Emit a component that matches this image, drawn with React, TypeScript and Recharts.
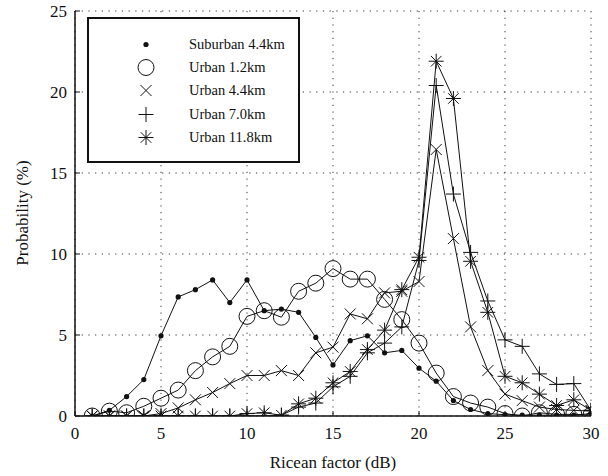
import React from 'react';
import { LineChart, Line, XAxis, YAxis, CartesianGrid, Label } from 'recharts';

const db = [1, 2, 3, 4, 5, 6, 7, 8, 9, 10, 11, 12, 13, 14, 15, 16, 17, 18, 19, 20, 21, 22, 23, 24, 25, 26, 27, 28, 29, 30];

const suburban44 = [0, 0.35, 1.2, 2.25, 4.95, 7.35, 7.8, 8.4, 7.0, 8.4, 6.5, 6.6, 6.4, 4.85, 3.15, 4.65, 4.95, 3.9, 4.05, 2.95, 2.15, 0.95, 0.4, 0.15, 0.08, 0.05, 0.05, 0.05, 0.05, 0.15];
const urban12 = [0, 0.3, 0.2, 0.6, 1.1, 1.6, 2.8, 3.65, 4.3, 6.15, 6.5, 6.1, 7.7, 8.2, 9.1, 8.45, 8.45, 7.2, 5.95, 4.5, 2.65, 1.2, 0.8, 0.55, 0.15, 0, 0.2, 0.1, 0.1, 0.05];
const urban44 = [0, 0, 0, 0, 0.15, 0.5, 1.0, 1.45, 2.0, 2.5, 2.5, 2.8, 2.5, 3.9, 4.25, 6.3, 6.0, 7.6, 7.7, 8.3, 16.45, 10.95, 5.5, 2.8, 1.35, 0.95, 0.55, 0.4, 0.35, 0.3];
const urban70 = [0, 0, 0, 0, 0, 0, 0, 0, 0, 0, 0, 0.05, 0.55, 0.8, 1.8, 2.45, 3.9, 4.5, 5.5, 9.6, 20.4, 13.7, 10.1, 7.1, 4.7, 4.3, 2.6, 1.95, 2.0, 0.35];
const urban118 = [0, 0, 0, 0, 0, 0, 0, 0, 0, 0.15, 0.2, 0.05, 0.75, 1.1, 2.05, 2.75, 4.1, 5.3, 7.8, 9.8, 21.9, 19.6, 9.55, 6.4, 2.45, 2.05, 1.35, 0.65, 1.0, 0.35];

const xTicks = [0, 5, 10, 15, 20, 25, 30];
const yTicks = [0, 5, 10, 15, 20, 25];

const seriesNames = ['Suburban 4.4km', 'Urban 1.2km', 'Urban 4.4km', 'Urban 7.0km', 'Urban 11.8km'];

const data = db.map((x, i) => ({
  x,
  s44: suburban44[i],
  u12: urban12[i],
  u44: urban44[i],
  u70: urban70[i],
  u118: urban118[i],
}));

const FONT = 'Liberation Serif, DejaVu Serif, Times, serif';
const INK = '#111';

type Shape = 'dot' | 'circle' | 'cross' | 'plus' | 'star';

const Marker = ({ shape, cx, cy }: { shape: Shape; cx: number; cy: number }) => {
  const s = { stroke: INK, strokeWidth: 1, fill: 'none' };
  if (shape === 'dot') return <circle cx={cx} cy={cy} r={2.6} fill={INK} />;
  if (shape === 'circle') return <circle cx={cx} cy={cy} r={8} {...s} fill="none" />;
  if (shape === 'cross') {
    const d = 5.5;
    return <path d={`M${cx - d},${cy - d}L${cx + d},${cy + d}M${cx - d},${cy + d}L${cx + d},${cy - d}`} {...s} />;
  }
  if (shape === 'plus') {
    const d = 7.5;
    return <path d={`M${cx - d},${cy}L${cx + d},${cy}M${cx},${cy - d}L${cx},${cy + d}`} {...s} />;
  }
  const d = 7.5;
  const e = 5.3;
  return (
    <path
      d={`M${cx - d},${cy}L${cx + d},${cy}M${cx},${cy - d}L${cx},${cy + d}M${cx - e},${cy - e}L${cx + e},${cy + e}M${cx - e},${cy + e}L${cx + e},${cy - e}`}
      {...s}
    />
  );
};

const dotFor = (shape: Shape) => (props: any) => {
  const { cx, cy, index } = props;
  if (cx == null || cy == null) return <g key={index} />;
  return <g key={index}><Marker shape={shape} cx={cx} cy={cy} /></g>;
};

const BottomTick = (props: any) => {
  const { x, y, payload } = props;
  return (
    <g>
      <line x1={x} y1={y} x2={x} y2={y - 5} stroke={INK} />
      <text x={x} y={y + 23} textAnchor="middle" fontSize={17} fontFamily={FONT} fill={INK}>{payload.value}</text>
    </g>
  );
};

const LeftTick = (props: any) => {
  const { x, y, payload } = props;
  return (
    <g>
      <line x1={x} y1={y} x2={x + 5} y2={y} stroke={INK} />
      <text x={x - 8} y={y + 6} textAnchor="end" fontSize={17} fontFamily={FONT} fill={INK}>{payload.value}</text>
    </g>
  );
};

const TopTick = (props: any) => {
  const { x, y } = props;
  return <line x1={x} y1={y} x2={x} y2={y + 5} stroke={INK} />;
};

const RightTick = (props: any) => {
  const { x, y } = props;
  return <line x1={x} y1={y} x2={x - 5} y2={y} stroke={INK} />;
};

const shapes: Shape[] = ['dot', 'circle', 'cross', 'plus', 'star'];

const LegendBox = () => (
  <div
    style={{
      position: 'absolute',
      left: 87,
      top: 17,
      width: 209,
      height: 142,
      border: `2px solid ${INK}`,
      background: '#fff',
      fontFamily: FONT,
      fontSize: 14.5,
      color: INK,
    }}
  >
    {seriesNames.map((name, i) => (
      <div key={name} style={{ position: 'absolute', left: 0, top: 14 + i * 23.2, height: 23, display: 'flex', alignItems: 'center' }}>
        <svg width={100} height={23} style={{ display: 'block' }}>
          <Marker shape={shapes[i]} cx={57} cy={11.5} />
        </svg>
        <span style={{ whiteSpace: 'nowrap' }}>{name}</span>
      </div>
    ))}
  </div>
);

export default function App() {
  const keys = ['s44', 'u12', 'u44', 'u70', 'u118'];
  return (
    <div style={{ position: 'absolute', left: 0, top: 0, width: 608, height: 476, background: '#fff', fontFamily: FONT }}>
      <LineChart width={608} height={476} data={data} margin={{ top: 11, right: 17, bottom: 0, left: 0 }}>
        <CartesianGrid stroke="#333" strokeDasharray="1.2 5.5" />
        <XAxis
          dataKey="x"
          type="number"
          domain={[0, 30]}
          ticks={xTicks}
          height={60}
          tickSize={0}
          tickMargin={0}
          tick={<BottomTick />}
          axisLine={{ stroke: INK, strokeWidth: 1.5 }}
          tickLine={false}
          allowDataOverflow
        >
          <Label
            content={() => (
              <text x={333} y={468} textAnchor="middle" fontSize={17} fontFamily={FONT} fill={INK}>Ricean factor (dB)</text>
            )}
          />
        </XAxis>
        <XAxis
          xAxisId="top"
          orientation="top"
          dataKey="x"
          type="number"
          domain={[0, 30]}
          ticks={xTicks}
          height={0}
          tickSize={0}
          tickMargin={0}
          tick={<TopTick />}
          axisLine={{ stroke: INK, strokeWidth: 1.5 }}
          tickLine={false}
        />
        <YAxis
          type="number"
          domain={[0, 25]}
          ticks={yTicks}
          width={75}
          tickSize={0}
          tickMargin={0}
          tick={<LeftTick />}
          axisLine={{ stroke: INK, strokeWidth: 1.5 }}
          tickLine={false}
          allowDataOverflow
        >
          <Label
            content={() => (
              <text x={24} y={213} transform="rotate(-90 24 213)" textAnchor="middle" dominantBaseline="middle" fontSize={17} fontFamily={FONT} fill={INK}>Probability (%)</text>
            )}
          />
        </YAxis>
        <YAxis
          yAxisId="right"
          orientation="right"
          type="number"
          domain={[0, 25]}
          ticks={yTicks}
          width={0}
          tickSize={0}
          tickMargin={0}
          tick={<RightTick />}
          axisLine={{ stroke: INK, strokeWidth: 1.5 }}
          tickLine={false}
        />
        {keys.map((k, i) => (
          <Line
            key={k}
            type="linear"
            dataKey={k}
            stroke={INK}
            strokeWidth={1}
            dot={dotFor(shapes[i])}
            activeDot={false}
            isAnimationActive={false}
          />
        ))}
      </LineChart>
      <LegendBox />
    </div>
  );
}
